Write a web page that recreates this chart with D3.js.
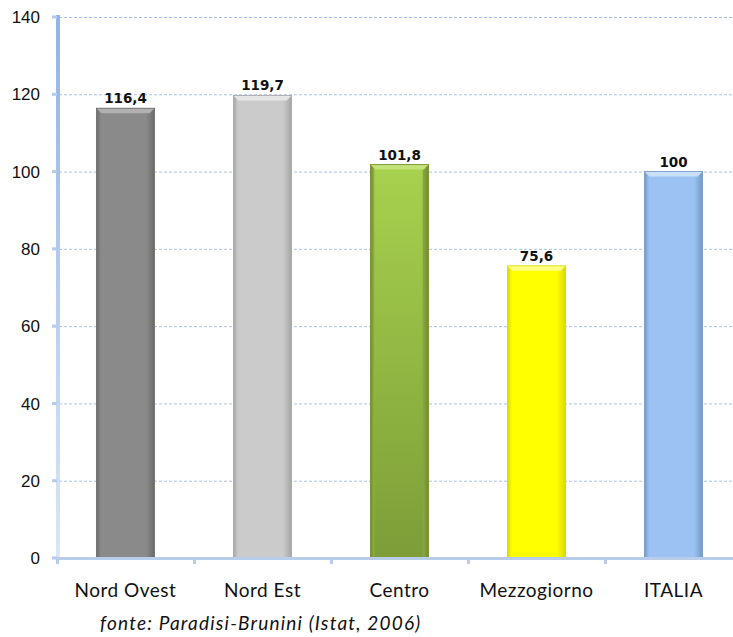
<!DOCTYPE html>
<html><head><meta charset="utf-8">
<script src="https://cdn.jsdelivr.net/npm/d3@7"></script>
<style>body{margin:0;background:#fff;}svg{display:block;}</style>
</head><body><svg id="c" width="733" height="637"></svg>
<script>
const categories = ["Nord Ovest", "Nord Est", "Centro", "Mezzogiorno", "ITALIA"];
const values = [116.4, 119.7, 101.8, 75.6, 100];
const valueLabels = ["116,4", "119,7", "101,8", "75,6", "100"];
const yTicks = [0, 20, 40, 60, 80, 100, 120, 140];
const barColors = [
  {mid:"#8a8a8a", edge:"#6a6a6a", top:"#b0b0b0"},
  {mid:"#cbcbcb", edge:"#a5a5a5", top:"#e6e6e6"},
  {mid:"#95b847", edge:"#6f8c2c", top:"#c4e27a"},
  {mid:"#ffff00", edge:"#d8d800", top:"#ffff80"},
  {mid:"#9bc2f2", edge:"#7398c8", top:"#c8e0fa"}
];
const source = "fonte: Paradisi-Brunini (Istat, 2006)";

const svg = d3.select("#c");
const x = d3.scaleBand().domain(categories).range([57, 742]).padding(0);
const y = d3.scaleLinear().domain([0, 140]).range([558, 17]);
const bw = x.bandwidth() * 0.425;

const defs = svg.append("defs");
barColors.forEach((c, i) => {
  const g = defs.append("linearGradient").attr("id", "g" + i).attr("x1", 0).attr("x2", 1).attr("y1", 0).attr("y2", 0);
  g.append("stop").attr("offset", "0").attr("stop-color", c.edge);
  g.append("stop").attr("offset", "0.08").attr("stop-color", c.mid);
  g.append("stop").attr("offset", "0.85").attr("stop-color", c.mid);
  g.append("stop").attr("offset", "1").attr("stop-color", c.edge);
});
const ax = defs.append("linearGradient").attr("id", "axg").attr("x1", 0).attr("x2", 0).attr("y1", 0).attr("y2", 1);
ax.append("stop").attr("offset", "0").attr("stop-color", "#93b3e2");
ax.append("stop").attr("offset", "1").attr("stop-color", "#dbe6f6");
const gv = defs.append("linearGradient").attr("id", "gv2").attr("x1", 0).attr("x2", 0).attr("y1", 0).attr("y2", 1);
gv.append("stop").attr("offset", "0").attr("stop-color", "#aad44f").attr("stop-opacity", 0.9);
gv.append("stop").attr("offset", "1").attr("stop-color", "#7a9a36").attr("stop-opacity", 0.9);

// gridlines
svg.append("g").selectAll("line").data(yTicks.filter(t => t > 0)).join("line")
  .attr("x1", 59).attr("x2", 733).attr("y1", d => y(d) + 0.5).attr("y2", d => y(d) + 0.5)
  .attr("stroke", "#a9c1ea").attr("stroke-width", 1).attr("stroke-dasharray", "3,2");

// y tick labels
svg.append("g").selectAll("text").data(yTicks).join("text")
  .attr("x", 40).attr("y", d => y(d)).attr("dy", "0.36em").attr("text-anchor", "end")
  .attr("font-family", "'Liberation Sans', Arial, sans-serif").attr("font-size", 17).attr("fill", "#111")
  .text(d => d);

// bars
const bars = svg.append("g");
categories.forEach((cat, i) => {
  const bx = x(cat) + (x.bandwidth() - bw) / 2;
  const by = y(values[i]);
  const h = y(0) - by;
  bars.append("rect").attr("x", bx).attr("y", by).attr("width", bw).attr("height", h).attr("fill", "url(#g" + i + ")");
  if (categories[i] === "Centro") bars.append("rect").attr("x", bx + 4).attr("y", by).attr("width", bw - 10).attr("height", h).attr("fill", "url(#gv2)");
  bars.append("path").attr("d", `M${bx},${by} L${bx + bw},${by} L${bx + bw - 5},${by + 5} L${bx + 5},${by + 5} Z`).attr("fill", barColors[i].top);
  bars.append("rect").attr("x", bx).attr("y", by).attr("width", bw).attr("height", h).attr("fill", "none").attr("stroke", barColors[i].edge).attr("stroke-width", 0.8);
  svg.append("text").attr("x", bx + bw / 2).attr("y", by - 5).attr("text-anchor", "middle")
    .attr("font-family", "'DejaVu Sans', sans-serif").attr("font-weight", "bold").attr("font-size", 13.5).attr("fill", "#111")
    .text(valueLabels[i]);
});

// y axis
svg.append("rect").attr("x", 56).attr("y", 15).attr("width", 4).attr("height", 545).attr("fill", "url(#axg)");
svg.append("g").selectAll("rect").data(yTicks).join("rect")
  .attr("x", 52).attr("y", d => y(d) - 1.5).attr("width", 5).attr("height", 3).attr("fill", "#b6cbea");
// x axis
svg.append("rect").attr("x", 56).attr("y", 557).attr("width", 677).attr("height", 3).attr("fill", "#b9cdea");
svg.append("g").selectAll("rect").data(categories).join("rect")
  .attr("x", d => x(d) - 1).attr("y", 558).attr("width", 3).attr("height", 6).attr("fill", "#b9cdea");

// category labels
svg.append("g").selectAll("text").data(categories).join("text")
  .attr("x", d => x(d) + x.bandwidth() / 2).attr("y", 597).attr("text-anchor", "middle")
  .attr("font-family", "Lato, 'Open Sans', sans-serif").attr("font-size", 19).attr("letter-spacing", 0.5).attr("fill", "#111")
  .text(d => d);

svg.append("text").attr("x", 100).attr("y", 630)
  .attr("font-family", "Lato, 'Open Sans', sans-serif").attr("font-style", "italic").attr("font-size", 19).attr("letter-spacing", 1.2).attr("fill", "#111")
  .text(source);
</script></body></html>
